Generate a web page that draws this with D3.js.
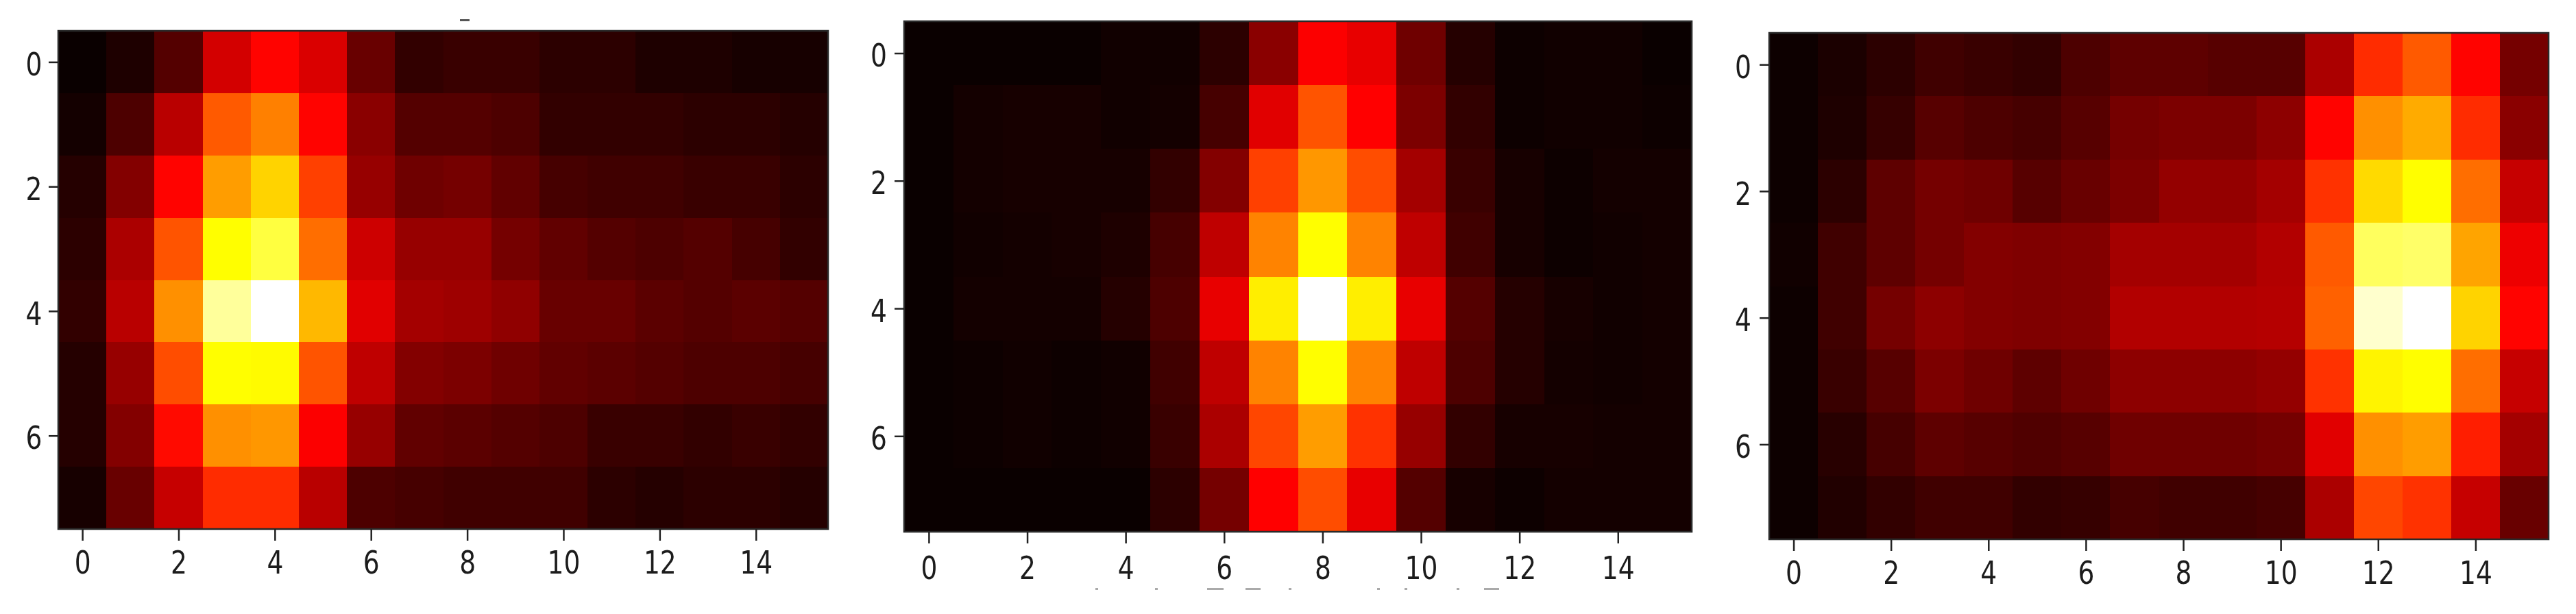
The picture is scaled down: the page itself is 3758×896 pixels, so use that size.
<!DOCTYPE html>
<html>
<head>
<meta charset="utf-8">
<script src="https://cdn.jsdelivr.net/npm/d3@7"></script>
<style>
  html, body { margin: 0; background: #fff; }
  svg { display: block; }
  .tick text { font-family: "DejaVu Sans", sans-serif; fill: #1c1c1c; }
</style>
</head>
<body>
<div id="chart"></div>
<script>
const xTicks = [0, 2, 4, 6, 8, 10, 12, 14];
const yTicks = [0, 2, 4, 6];

const leftValues = [
  [0, .03, .11, .30, .37, .31, .14, .06, .07, .07, .05, .05, .03, .03, .02, .02],
  [.015, .10, .26, .50, .556, .37, .19, .11, .11, .10, .06, .06, .06, .05, .05, .04],
  [.04, .18, .37, .60, .68, .46, .21, .15, .16, .13, .09, .08, .08, .07, .07, .05],
  [.05, .24, .49, .745, .81, .53, .29, .21, .21, .16, .13, .11, .10, .11, .09, .06],
  [.06, .26, .58, .90, 1, .64, .32, .23, .22, .20, .14, .14, .12, .11, .12, .11],
  [.04, .21, .48, .745, .74, .49, .27, .18, .17, .15, .13, .12, .11, .10, .10, .09],
  [.04, .18, .38, .58, .59, .36, .21, .13, .12, .11, .10, .07, .07, .06, .07, .06],
  [.02, .14, .28, .43, .43, .26, .10, .09, .08, .08, .08, .05, .04, .05, .05, .04]
];

const middleValues = [
  [0, 0, 0, 0, .01, .01, .05, .19, .36, .33, .15, .04, .005, .01, .01, 0],
  [0, .015, .02, .02, .01, .015, .09, .32, .49, .365, .17, .06, .005, .01, .01, .005],
  [0, .015, .02, .02, .02, .06, .18, .46, .59, .48, .23, .07, .02, .005, .015, .015],
  [0, .01, .015, .02, .03, .09, .27, .56, .745, .56, .27, .08, .02, .005, .01, .015],
  [0, .015, .015, .015, .04, .10, .33, .72, 1, .72, .33, .11, .04, .02, .01, .015],
  [0, .005, .01, .005, .01, .08, .27, .56, .745, .56, .27, .10, .04, .015, .01, .015],
  [0, .005, .01, .005, .01, .07, .24, .47, .60, .44, .21, .06, .02, .02, .015, .015],
  [0, 0, 0, 0, 0, .05, .16, .365, .48, .33, .11, .02, .005, .015, .015, .015]
];

const rightValues = [
  [.005, .025, .05, .08, .07, .06, .10, .125, .125, .115, .115, .24, .43, .50, .37, .16],
  [.005, .03, .065, .115, .10, .09, .115, .16, .17, .17, .195, .37, .58, .62, .43, .19],
  [.005, .05, .125, .16, .15, .115, .14, .17, .205, .205, .23, .44, .69, .745, .53, .28],
  [.01, .08, .125, .16, .18, .175, .18, .23, .23, .23, .25, .50, .84, .85, .61, .34],
  [.005, .08, .16, .195, .18, .175, .18, .25, .25, .25, .255, .51, .95, 1, .68, .37],
  [.005, .07, .115, .17, .15, .125, .15, .195, .195, .195, .205, .44, .73, .745, .53, .28],
  [.005, .045, .09, .125, .115, .105, .115, .15, .15, .15, .16, .32, .58, .60, .41, .23],
  [.005, .035, .06, .08, .08, .06, .065, .09, .08, .08, .09, .24, .47, .44, .28, .14]
];

const panels = [
  { values: leftValues, left: 85, right: 1208, top: 45, bottom: 772, xLabel: 48, yLabel: 35.5 },
  { values: middleValues, left: 1319, right: 2468, top: 31, bottom: 776, xLabel: 52, yLabel: 37 },
  { values: rightValues, left: 2581, right: 3718, top: 48, bottom: 787, xLabel: 47.5, yLabel: 38 }
];

// matplotlib "hot" colormap
const hot = d3.scaleLinear()
  .domain([0, .365, .746, 1])
  .range(['#0a0000', '#ff0000', '#ffff00', '#ffffff']);

const svg = d3.select('#chart').append('svg')
  .attr('width', 3758)
  .attr('height', 896);

svg.append('defs')
  .append('filter')
  .attr('id', 'soft')
  .attr('x', '-5%').attr('y', '-5%')
  .attr('width', '110%').attr('height', '110%')
  .append('feGaussianBlur')
  .attr('stdDeviation', 0.7);

panels.forEach(p => {
  const x = d3.scaleLinear().domain([-0.5, 15.5]).range([p.left, p.right]);
  const y = d3.scaleLinear().domain([-0.5, 7.5]).range([p.top, p.bottom]);
  const g = svg.append('g');

  p.values.forEach((row, r) => {
    g.selectAll(null)
      .data(row)
      .enter()
      .append('rect')
      .attr('x', (d, c) => x(c - 0.5))
      .attr('y', y(r - 0.5))
      .attr('width', x(1) - x(0) + 0.5)
      .attr('height', y(1) - y(0) + 0.5)
      .attr('shape-rendering', 'crispEdges')
      .attr('fill', d => hot(d));
  });

  g.append('rect')
    .attr('x', p.left)
    .attr('y', p.top)
    .attr('width', p.right - p.left)
    .attr('height', p.bottom - p.top)
    .attr('fill', 'none')
    .attr('stroke', '#2a2a2a')
    .attr('stroke-width', 2.5);

  const xAxis = g.append('g')
    .attr('transform', `translate(0,${p.bottom})`)
    .call(d3.axisBottom(x).tickValues(xTicks).tickSize(17));
  const yAxis = g.append('g')
    .attr('transform', `translate(${p.left},0)`)
    .call(d3.axisLeft(y).tickValues(yTicks).tickSize(14));

  [xAxis, yAxis].forEach(a => {
    a.attr('filter', 'url(#soft)');
    a.select('.domain').remove();
    a.selectAll('.tick line').attr('stroke', '#222').attr('stroke-width', 2.5);
    a.selectAll('.tick text')
      .attr('font-size', 47)
      .attr('x', 0)
      .attr('y', 0)
      .attr('dy', '0.365em')
      .attr('text-anchor', 'middle');
  });
  xAxis.selectAll('.tick text').attr('transform', `translate(0,${p.xLabel}) scale(0.8,1)`);
  yAxis.selectAll('.tick text').attr('transform', `translate(${-p.yLabel},2) scale(0.8,1)`);
});

// leftovers of the cropped titles above and below the panels
const scraps = [
  [671, 28, 14, '#555'], [1598, 858, 4, '#aaa'], [1685, 858, 4, '#aaa'], [1761, 858, 24, '#aaa'], [1817, 858, 22, '#aaa'],
  [1880, 858, 4, '#aaa'], [2009, 858, 4, '#aaa'], [2049, 858, 4, '#aaa'], [2125, 858, 4, '#aaa'], [2165, 858, 22, '#aaa']
];
svg.selectAll('.scrap')
  .data(scraps)
  .enter()
  .append('rect')
  .attr('class', 'scrap')
  .attr('x', d => d[0])
  .attr('y', d => d[1])
  .attr('width', d => d[2])
  .attr('height', 3)
  .attr('fill', d => d[3])
  .attr('filter', 'url(#soft)');
</script>
</body>
</html>
